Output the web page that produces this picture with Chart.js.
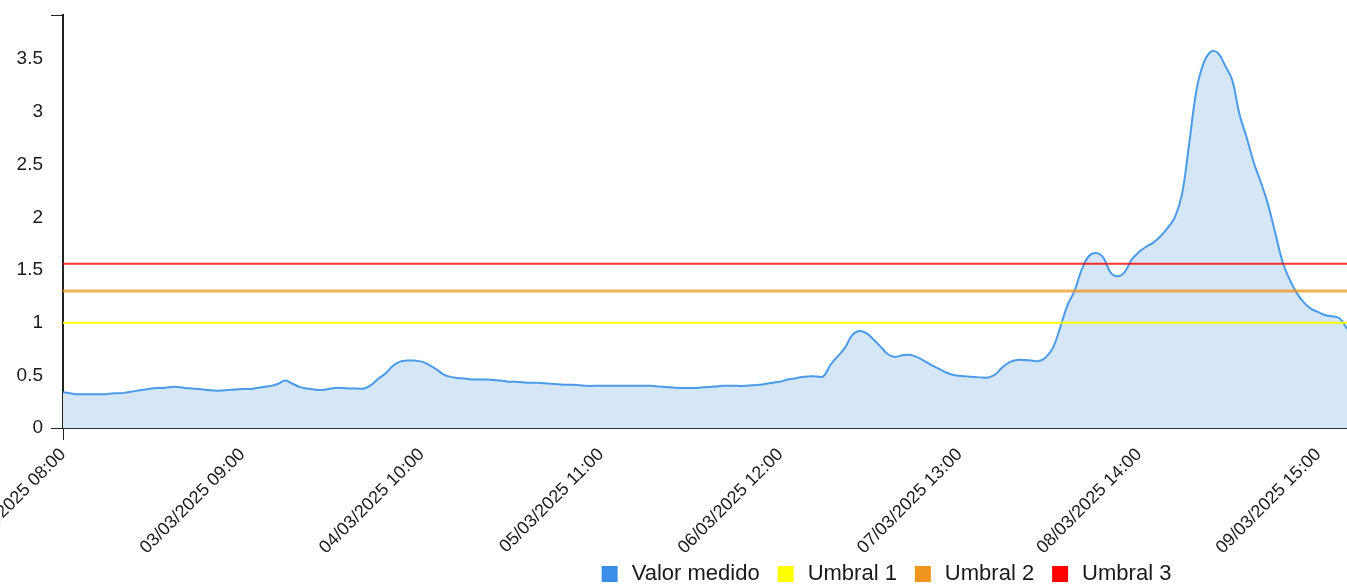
<!DOCTYPE html>
<html lang="es">
<head>
    <meta charset="UTF-8">
    <title>Valor medido</title>
    <script src="https://cdn.jsdelivr.net/npm/chart.js"></script>
    <style>
        html, body { margin: 0; padding: 0; overflow: hidden; background: #fff; }
        #wrap { position: absolute; left: 0; top: 0; }
    </style>
</head>
<body>
    <div id="wrap"><canvas id="grafico" width="1770" height="595"></canvas></div>

    <script>
        // serie horaria desde 02/03/2025 08:00
        const inicioUTC = Date.UTC(2025, 2, 2, 8, 0);
        const pasoEtiquetas = 25;

        const valorMedido = [
            0.34, 0.33, 0.32, 0.32, 0.32, 0.32, 0.32, 0.33, 0.33, 0.34,
            0.35, 0.36, 0.37, 0.38, 0.38, 0.39, 0.39, 0.38, 0.375, 0.37,
            0.36, 0.355, 0.355, 0.36, 0.365, 0.37, 0.37, 0.38, 0.39, 0.40,
            0.42, 0.45, 0.42, 0.39, 0.375, 0.365, 0.36, 0.37, 0.38, 0.38,
            0.375, 0.375, 0.375, 0.41, 0.47, 0.52, 0.59, 0.63, 0.64, 0.64,
            0.63, 0.60, 0.56, 0.51, 0.485, 0.475, 0.47, 0.46, 0.46, 0.46,
            0.455, 0.45, 0.44, 0.44, 0.435, 0.43, 0.43, 0.425, 0.42, 0.415,
            0.41, 0.41, 0.405, 0.40, 0.40, 0.40, 0.40, 0.40, 0.40, 0.40,
            0.40, 0.40, 0.40, 0.395, 0.39, 0.385, 0.38, 0.38, 0.38, 0.385,
            0.39, 0.395, 0.40, 0.40, 0.40, 0.40, 0.405, 0.41, 0.42, 0.43,
            0.44, 0.46, 0.47, 0.485, 0.49, 0.49, 0.49, 0.60, 0.68, 0.76,
            0.88, 0.92, 0.90, 0.84, 0.77, 0.70, 0.675, 0.69, 0.695, 0.675,
            0.64, 0.60, 0.565, 0.53, 0.505, 0.495, 0.49, 0.485, 0.48, 0.48,
            0.51, 0.58, 0.625, 0.645, 0.645, 0.64, 0.635, 0.67, 0.76, 0.95,
            1.16, 1.30, 1.50, 1.63, 1.66, 1.62, 1.48, 1.44, 1.48, 1.60,
            1.67, 1.72, 1.76, 1.82, 1.90, 2.00, 2.22, 2.70, 3.20, 3.46,
            3.57, 3.56, 3.44, 3.30, 2.98, 2.76, 2.52, 2.33, 2.12, 1.85,
            1.58, 1.41, 1.28, 1.19, 1.13, 1.10, 1.07, 1.06, 1.04, 0.94
        ];

        const umbral1 = 1.0;
        const umbral2 = 1.3;
        const umbral3 = 1.56;

        const ejeYMax = 3.92;
        const coloresLeyenda = ['#3a8ee6', '#ffff00', '#f0961e', '#ff0000'];

        function pad(n) { return String(n).padStart(2, '0'); }
        function formatear(ms) {
            const d = new Date(ms);
            return pad(d.getUTCDate()) + '/' + pad(d.getUTCMonth() + 1) + '/' + d.getUTCFullYear() +
                ' ' + pad(d.getUTCHours()) + ':' + pad(d.getUTCMinutes());
        }
        const etiquetas = valorMedido.map((_, i) => formatear(inicioUTC + i * 3600000));
        const primera = etiquetas[0];
        const ultima = etiquetas[etiquetas.length - 1];

        const fuente = "Arial, 'Liberation Sans', sans-serif";

        new Chart(document.getElementById('grafico'), {
            type: 'line',
            data: {
                labels: etiquetas,
                datasets: [
                    {
                        label: 'Valor medido',
                        data: valorMedido,
                        borderColor: '#4a9be8',
                        backgroundColor: '#d5e7f7',
                        borderWidth: 2,
                        fill: 'origin',
                        tension: 0.4,
                        pointRadius: 0,
                        order: 2
                    },
                    {
                        label: 'Umbral 1',
                        data: [{ x: primera, y: umbral1 }, { x: ultima, y: umbral1 }],
                        borderColor: '#ffff00',
                        backgroundColor: '#ffff00',
                        borderWidth: 2,
                        pointRadius: 0,
                        fill: false,
                        order: 1
                    },
                    {
                        label: 'Umbral 2',
                        data: [{ x: primera, y: umbral2 }, { x: ultima, y: umbral2 }],
                        borderColor: 'rgba(240,150,30,0.75)',
                        backgroundColor: 'rgba(240,150,30,0.75)',
                        borderWidth: 3,
                        pointRadius: 0,
                        fill: false,
                        order: 1
                    },
                    {
                        label: 'Umbral 3',
                        data: [{ x: primera, y: umbral3 }, { x: ultima, y: umbral3 }],
                        borderColor: 'rgba(255,0,0,0.8)',
                        backgroundColor: 'rgba(255,0,0,0.8)',
                        borderWidth: 2,
                        pointRadius: 0,
                        fill: false,
                        order: 1
                    }
                ]
            },
            options: {
                responsive: false,
                animation: false,
                layout: { padding: { top: 15, left: 0, right: 0, bottom: 0 } },
                plugins: {
                    tooltip: { enabled: false },
                    legend: {
                        position: 'bottom',
                        labels: {
                            usePointStyle: true,
                            pointStyle: 'rect',
                            boxWidth: 22,
                            boxHeight: 16,
                            padding: 15,
                            color: '#1a1a1a',
                            font: { family: fuente, size: 22 },
                            sort: (a, b) => a.datasetIndex - b.datasetIndex,
                            generateLabels: (chart) => {
                                const items = Chart.defaults.plugins.legend.labels.generateLabels(chart);
                                items.forEach(it => {
                                    it.fillStyle = coloresLeyenda[it.datasetIndex];
                                    it.strokeStyle = coloresLeyenda[it.datasetIndex];
                                    it.lineWidth = 0;
                                    it.pointStyle = 'rect';
                                });
                                return items;
                            }
                        }
                    }
                },
                scales: {
                    x: {
                        type: 'category',
                        offset: false,
                        border: { display: true, color: '#333', width: 2 },
                        grid: {
                            drawOnChartArea: false,
                            tickLength: 12,
                            color: (ctx) => ctx.index === 0 ? '#222' : 'rgba(0,0,0,0)'
                        },
                        ticks: {
                            autoSkip: false,
                            minRotation: 45,
                            maxRotation: 45,
                            padding: 4,
                            color: '#1a1a1a',
                            font: { family: fuente, size: 18 },
                            callback: (val, idx) => idx % pasoEtiquetas === 0 ? etiquetas[idx] : ''
                        },
                        afterFit: (scale) => {
                            scale.paddingLeft = 0;
                            scale.paddingRight = 0;
                            scale.height = 120;
                            // las etiquetas giradas pueden salir de la caja del eje
                            scale._computeLabelArea = () => undefined;
                        }
                    },
                    y: {
                        min: 0,
                        max: ejeYMax,
                        border: { display: true, color: '#222', width: 2 },
                        grid: {
                            drawOnChartArea: false,
                            tickLength: 12,
                            color: (ctx) => (ctx.index === 0 || ctx.tick.value === ejeYMax) ? '#222' : 'rgba(0,0,0,0)'
                        },
                        ticks: {
                            stepSize: 0.5,
                            padding: 8,
                            color: '#1a1a1a',
                            font: { family: fuente, size: 19 },
                            callback: (v) => (Math.abs(v * 2 - Math.round(v * 2)) < 1e-6) ? String(v) : ''
                        },
                        afterFit: (scale) => {
                            scale.width = 63;
                            scale.paddingTop = 0;
                        }
                    },
                    derecha: {
                        type: 'linear',
                        position: 'right',
                        display: true,
                        grid: { display: false },
                        border: { display: false },
                        ticks: { display: false },
                        afterFit: (scale) => { scale.width = 1770 - 1347; }
                    }
                }
            }
        });
    </script>
</body>
</html>
